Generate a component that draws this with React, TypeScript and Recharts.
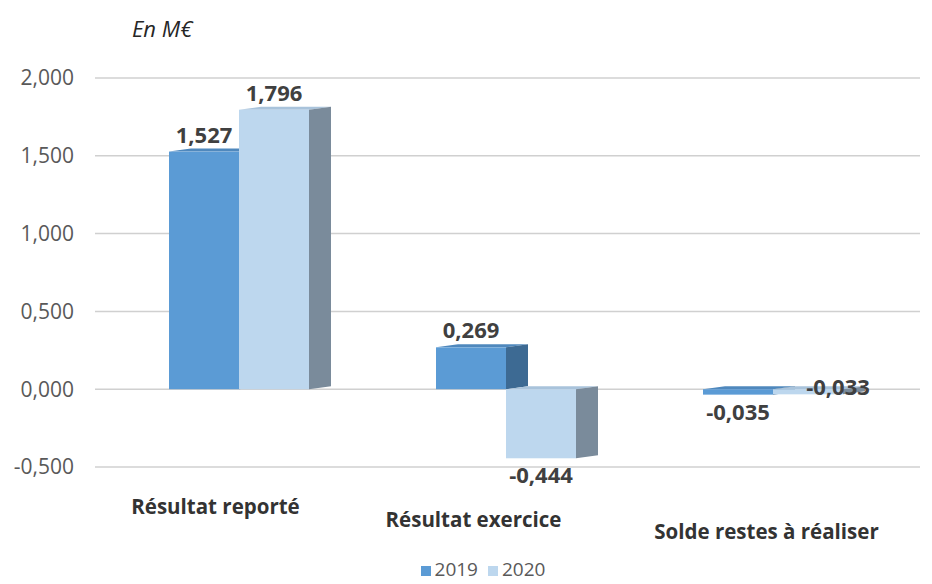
import type { JSX } from 'react';
import { Bar, BarChart, CartesianGrid, LabelList, Legend, XAxis, YAxis } from 'recharts';

const categories = ['Résultat reporté', 'Résultat exercice', 'Solde restes à  réaliser'];
const values2019 = [1.527, 0.269, -0.035];
const values2020 = [1.796, -0.444, -0.033];
const yTicks = [-0.5, 0, 0.5, 1, 1.5, 2];

const data = categories.map((name, i) => ({ name, y2019: values2019[i], y2020: values2020[i] }));

const FONT = '"Open Sans", "Liberation Sans", sans-serif';
const DEPTH = 22;
const RISE = 3;

const fmt = (v: number): string => v.toFixed(3).replace('.', ',');

function make3DBar(front: string, side: string, top: string) {
  return function Bar3D(props: any): JSX.Element {
    const { x, y, width, height } = props;
    const yTop = Math.min(y, y + height);
    const h = Math.abs(height);
    const right = x + width;
    return (
      <g>
        <polygon
          points={`${x},${yTop} ${x + DEPTH},${yTop - RISE} ${right + DEPTH},${yTop - RISE} ${right},${yTop}`}
          fill={top}
        />
        <polygon
          points={`${right},${yTop} ${right + DEPTH},${yTop - RISE} ${right + DEPTH},${yTop + h - RISE} ${right},${yTop + h}`}
          fill={side}
        />
        <rect x={x} y={yTop} width={width} height={h} fill={front} />
      </g>
    );
  };
}

function makeLabel(smallAbove: boolean) {
  return function ValueLabel(props: any): JSX.Element {
    const { x, y, width, height, value } = props;
    const yTop = Math.min(y, y + height);
    const h = Math.abs(height);
    const neg = value < 0;
    let lx = x + width / 2;
    let ly = neg ? yTop + h + 25 : yTop - 9;
    if (neg && smallAbove && Math.abs(value) < 0.1) {
      lx += 30;
      ly = yTop + 6;
    }
    return (
      <text
        x={lx}
        y={ly}
        textAnchor="middle"
        fontFamily={FONT}
        fontWeight={700}
        fontSize={22}
        fill="#404040"
      >
        {fmt(value)}
      </text>
    );
  };
}

const tickShift = [
  { dx: -23, dy: 46 },
  { dx: -32, dy: 59 },
  { dx: -6, dy: 71 },
];

function CategoryTick(props: any): JSX.Element {
  const { x, y, payload, index } = props;
  const s = tickShift[index] ?? { dx: 0, dy: 46 };
  return (
    <text
      x={x + s.dx}
      y={y + s.dy - 7}
      textAnchor="middle"
      fontFamily={FONT}
      fontWeight={700}
      fontSize={20.5}
      fill="#333333"
    >
      {payload.value}
    </text>
  );
}

export default function App(): JSX.Element {
  return (
    <div style={{ position: 'absolute', left: 0, top: 0, width: 932, height: 584, background: '#fff' }}>
      <div
        style={{
          position: 'absolute',
          left: 132,
          top: 13,
          fontFamily: FONT,
          fontStyle: 'italic',
          fontSize: 22,
          color: '#262626',
        }}
      >
        En M€
      </div>
      <BarChart
        width={932}
        height={584}
        data={data}
        margin={{ top: 78, right: 12, bottom: 0, left: 0 }}
        barGap={0}
      >
        <CartesianGrid horizontal vertical={false} stroke="#d0d0d0" strokeWidth={1.5} />
        <XAxis
          dataKey="name"
          axisLine={false}
          tickLine={false}
          height={90}
          padding={{ left: 10, right: 14 }}
          tick={<CategoryTick />}
          interval={0}
        />
        <YAxis
          domain={[-0.5, 2]}
          ticks={yTicks}
          width={95}
          axisLine={false}
          tickLine={false}
          tickMargin={15}
          tickFormatter={fmt}
          tick={{ fontFamily: FONT, fontSize: 21, fill: '#595959' }}
        />
        <Legend
          verticalAlign="bottom"
          height={27}
          iconType="square"
          iconSize={10}
          wrapperStyle={{
            fontFamily: FONT,
            fontSize: 19,
            color: '#595959',
            lineHeight: '24px',
            paddingLeft: 56,
            boxSizing: 'border-box',
          }}
          formatter={(v: string) => <span style={{ color: '#595959' }}>{v}</span>}
        />
        <Bar
          dataKey="y2019"
          name="2019"
          fill="#5b9bd5"
          barSize={70}
          isAnimationActive={false}
          shape={make3DBar('#5b9bd5', '#3d6a93', '#4f88bd')}
        >
          <LabelList dataKey="y2019" content={makeLabel(false)} />
        </Bar>
        <Bar
          dataKey="y2020"
          name="2020"
          fill="#bdd7ee"
          barSize={70}
          isAnimationActive={false}
          shape={make3DBar('#bdd7ee', '#7a8b9b', '#a9c3db')}
        >
          <LabelList dataKey="y2020" content={makeLabel(true)} />
        </Bar>
      </BarChart>
    </div>
  );
}
